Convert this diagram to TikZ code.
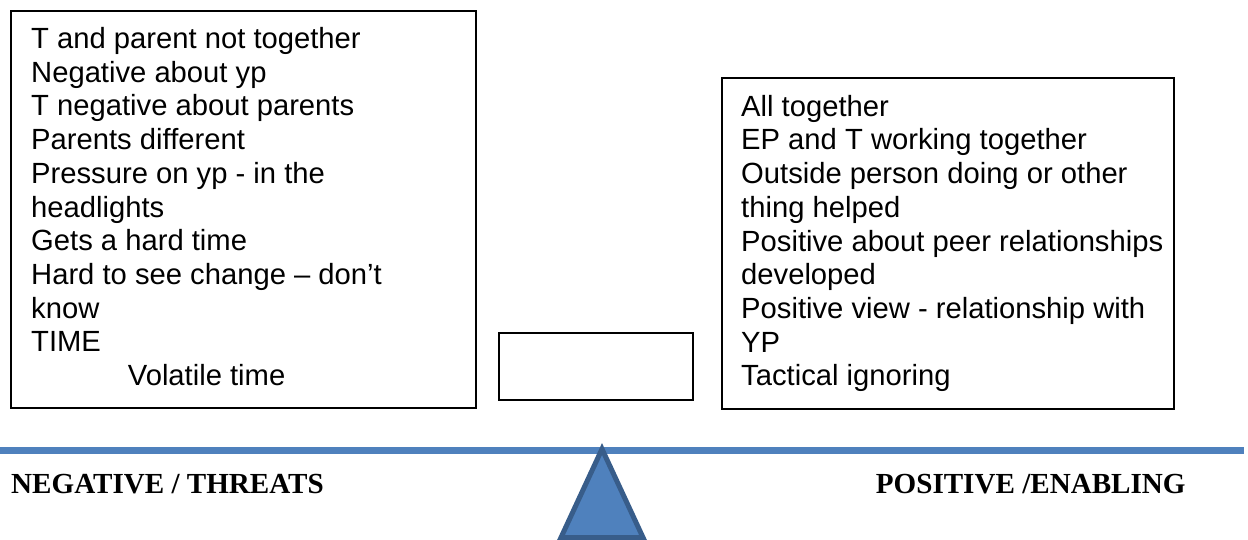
\documentclass[tikz,border=0pt]{standalone}
\usepackage{fontspec}
\setmainfont{Liberation Sans}
\newfontfamily\labelfont{Liberation Serif}
\definecolor{officeblue}{HTML}{4F81BD}
\definecolor{officeblueedge}{HTML}{385D8A}
\begin{document}
\begin{tikzpicture}[x=1pt,y=-1pt,
  box/.style={draw=black, line width=1.6pt, anchor=north west, inner sep=0pt},
  boxtext/.style={anchor=north west, inner sep=0pt, align=left, font=\fontsize{29.2}{33.7}\selectfont},
  sidelabel/.style={anchor=base west, inner sep=0pt, font=\labelfont\bfseries\fontsize{29.1}{33}\selectfont}]
\useasboundingbox (0,0) rectangle (1248,540);
% boxes
\node[box, minimum width=465pt, minimum height=397pt] (lbox) at (10,10) {};
\node[box, minimum width=452pt, minimum height=331pt] (rbox) at (721,77) {};
\node[box, minimum width=194pt, minimum height=67pt] (mbox) at (498,332) {};
% texts
\node[boxtext] (ltext) at (31,{48.3-23.59}) {\strut T and parent not together\\
Negative about yp\\
T negative about parents\\
Parents different\\
Pressure on yp - in the\\
headlights\\
Gets a hard time\\
Hard to see change – don’t\\
know\\
TIME\\
\hspace*{96.7pt}Volatile time};
\node[boxtext] (rtext) at (741,{116-23.59}) {\strut All together\\
EP and T working together\\
Outside person doing or other\\
thing helped\\
Positive about peer relationships\\
developed\\
Positive view - relationship with\\
YP\\
Tactical ignoring};
% beam and fulcrum
\draw[officeblue, line width=7.5pt] (0,450.3) -- (1244,450.3);
\draw[officeblueedge, fill=officeblue, line width=5pt, line join=miter]
  (602,449) -- (643,537.5) -- (561,537.5) -- cycle;
% labels
\node[sidelabel] (neg) at (11,493) {NEGATIVE / THREATS};
\node[sidelabel] (pos) at (875.7,493) {POSITIVE /ENABLING};
\end{tikzpicture}
\end{document}
